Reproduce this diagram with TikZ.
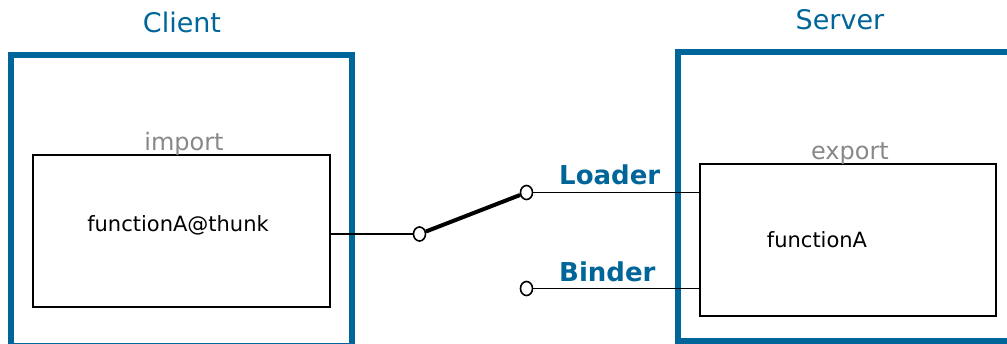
\documentclass[tikz,border=0pt]{standalone}
\usepackage{fontspec}
\setmainfont{DejaVu Sans}
\usetikzlibrary{shapes.geometric}
\definecolor{blueframe}{HTML}{006699}
\definecolor{labelgray}{HTML}{888888}
\tikzset{
  frame/.style={draw=blueframe, line width=6pt, rectangle, inner sep=0pt},
  title/.style={text=blueframe, font=\fontsize{27}{31}\selectfont, inner sep=0pt},
  table/.style={draw=black, line width=1.5pt, rectangle, inner sep=0pt,
    minimum width=297pt, minimum height=152pt},
  tablelabel/.style={text=labelgray, font=\fontsize{24}{28}\selectfont, inner sep=0pt, anchor=base},
  func/.style={text=black, font=\fontsize{21}{25}\selectfont, inner sep=0pt},
  contact/.style={draw=black, fill=white, line width=1.6pt, ellipse, inner sep=0pt,
    minimum width=12pt, minimum height=14pt},
  wire/.style={draw=black, line width=1.6pt},
  blade/.style={draw=black, line width=4pt},
  mode/.style={text=blueframe, font=\bfseries\fontsize{26}{30}\selectfont, inner sep=0pt, anchor=west}
}
\begin{document}
\begin{tikzpicture}[x=1pt,y=-1pt]
  \useasboundingbox (0,0) rectangle (1007,343);
  \clip (0,0) rectangle (1007,343);

  % client side
  \node[frame, minimum width=341pt, minimum height=291pt] (client) at (181.5,200) {};
  \node[title] (clienttitle) at (182,22) {Client};
  \node[table] (imp) at (181.5,231) {};
  \node[tablelabel] (implabel) at (184,150) {import};
  \node[func] (thunk) at (178,225) {functionA@thunk};

  % server side
  \node[frame, minimum width=334pt, minimum height=289pt] (server) at (845,196.5) {};
  \node[title] (servertitle) at (840,20) {Server};
  \node[table, minimum width=296pt] (exp) at (848,240) {};
  \node[tablelabel] (explabel) at (850,159) {export};
  \node[func] (funca) at (817,240) {functionA};

  % switch
  \node[contact] (pivot) at (419.5,234) {};
  \node[contact] (up) at (526.5,192.5) {};
  \node[contact] (down) at (526.5,288.5) {};

  \draw[wire] (imp.east |- pivot) -- (pivot);
  \draw[blade] (pivot) -- (up);
  \draw[wire] (up) -- (up -| exp.west);
  \draw[wire] (down) -- (down -| exp.west);

  \node[mode] (loader) at (559,175) {Loader};
  \node[mode] (binder) at (559,272) {Binder};
\end{tikzpicture}
\end{document}
